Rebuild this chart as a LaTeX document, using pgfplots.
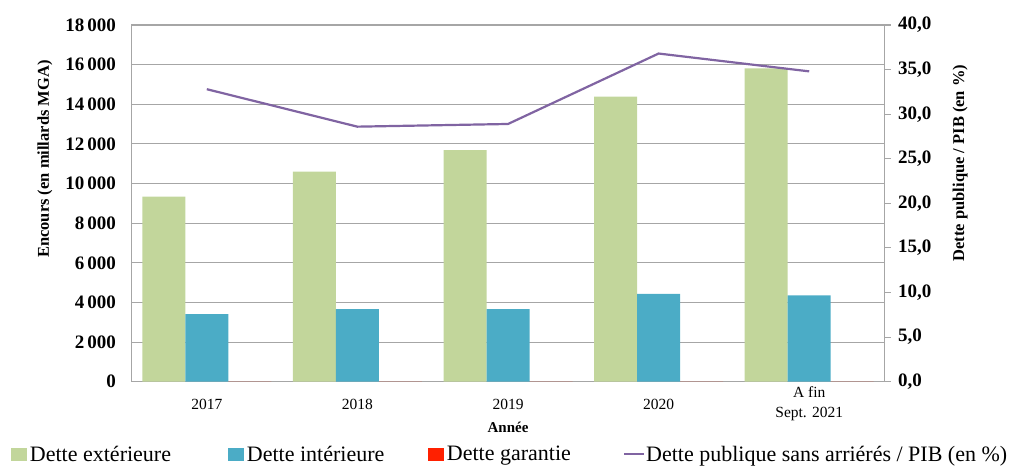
\documentclass[border=0pt]{standalone}
\usepackage{fontspec}
\setmainfont{Liberation Serif}
\usepackage{pgfplots}
\pgfplotsset{compat=1.18}
\definecolor{cgreen}{RGB}{194,214,155}
\definecolor{cblue}{RGB}{75,172,198}
\definecolor{cred}{RGB}{255,32,0}
\definecolor{cline}{RGB}{128,100,162}
\definecolor{cgrid}{RGB}{166,166,166}
\newcommand{\tickfont}{\bfseries\fontsize{19}{19}\selectfont}
\pgfplotsset{
  mybarleg/.style={legend image code/.code={\fill[##1] (0pt,-6.5pt) rectangle (16pt,6.5pt); \path (19pt,0pt);}},
  mylineleg/.style={legend image code/.code={\draw[##1] (0pt,0pt) -- (20pt,0pt); \path (21pt,0pt);}},
}
\begin{document}
\begin{tikzpicture}
\useasboundingbox (0pt,0pt) rectangle (1011pt,466pt);
\begin{axis}[
  at={(131.5pt,84.3pt)}, anchor=south west,
  scale only axis, width=753pt, height=356.7pt,
  xmin=-0.5, xmax=4.5, ymin=0, ymax=18000,
  ytick={0,2000,4000,6000,8000,10000,12000,14000,16000,18000},
  scaled y ticks=false,
  xtick={0,1,2,3,4},
  xticklabels={2017,2018,2019,2020,{A fin\\Sept. 2021}},
  xticklabel style={align=center, anchor=center, yshift=-22.3pt, font=\fontsize{15.5}{20}\selectfont},
  yticklabel style={font=\tickfont, xshift=-12pt},
  /pgf/number format/assume math mode=true,
  /pgf/number format/1000 sep={\,},
  ymajorgrids, grid style={cgrid, line width=1.1pt},
  axis line style={cgrid, line width=1.1pt},
  major tick length=0pt,
  xlabel={\bfseries Année},
  xlabel style={at={(axis description cs:0.5,-0.127)}, anchor=center, font=\bfseries\fontsize{15}{15}\selectfont},
  ylabel={Encours (en millards MGA)},
  ylabel style={at={(axis description cs:-0.1149,0.624)}, anchor=center, rotate=0, font=\bfseries\fontsize{16.5}{16.5}\selectfont},
  legend columns=4,
  legend style={at={(-0.1601,-0.203)}, anchor=west, draw=none, fill=none,
    font=\fontsize{22}{22}\selectfont, inner sep=0pt, outer sep=0pt,
    nodes={inner sep=0pt},
    /tikz/every even column/.append style={column sep=0pt}},
  legend cell align=left,
]
\addplot[ybar, bar width=0.2855, bar shift=-0.2855, fill=cgreen, draw=none, mybarleg]
  coordinates {(0,9336) (1,10597) (2,11692) (3,14382) (4,15815)};
\addlegendentry{\makebox[198pt][l]{Dette extérieure}}
\addplot[ybar, bar width=0.2855, bar shift=0, fill=cblue, draw=none, mybarleg]
  coordinates {(0,3416) (1,3668) (2,3668) (3,4426) (4,4360)};
\addlegendentry{\makebox[181pt][l]{Dette intérieure}}
\addplot[ybar, bar width=0.2855, bar shift=0.2855, fill=cred, draw=none, mybarleg]
  coordinates {(0,0) (1,0) (2,0) (3,0) (4,0)};
\addlegendentry{\makebox[176pt][l]{Dette garantie}}
\addlegendimage{cline, line width=2.2pt, mylineleg}
\addlegendentry{Dette publique sans arriérés / PIB (en \%)}
\end{axis}
\begin{axis}[
  at={(131.5pt,84.3pt)}, anchor=south west,
  scale only axis, width=753pt, height=356.7pt,
  xmin=-0.5, xmax=4.5, ymin=0, ymax=40,
  axis y line*=right, axis x line=none,
  ytick={0,5,10,15,20,25,30,35,40},
  tick align=outside, major tick length=6pt,
  ytick style={cgrid, line width=1.1pt},
  axis line style={cgrid, line width=1.1pt},
  yticklabel style={font=\tickfont, xshift=4pt, /pgf/number format/.cd, fixed, fixed zerofill, precision=1, use comma},
  /pgf/number format/assume math mode=true,
  ylabel={Dette publique / PIB (en \%)},
  ylabel style={at={(axis description cs:1.1003,0.613)}, anchor=center, rotate=0, font=\bfseries\fontsize{16.5}{16.5}\selectfont},
]
\addplot[cline, line width=2.2pt, mark=none] coordinates {(0,32.8) (1,28.6) (2,28.9) (3,36.8) (4,34.8)};
\end{axis}
\end{tikzpicture}
\end{document}
